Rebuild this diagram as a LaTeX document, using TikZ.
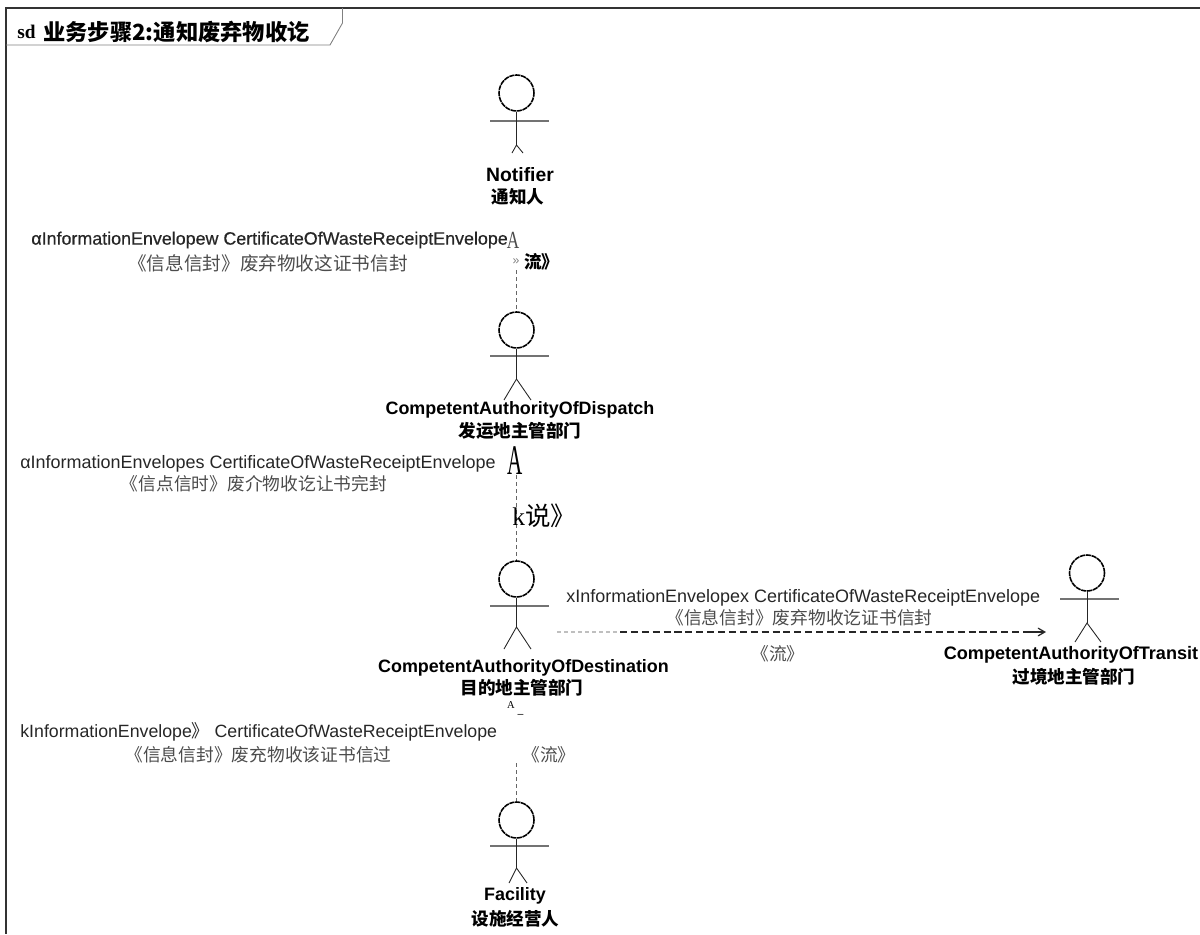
\documentclass[tikz,border=0pt]{standalone}
\usepackage{fontspec}
\setmainfont{Liberation Sans}
\newfontfamily\cjk{Noto Sans CJK SC}
\newfontfamily\serifglyph{Liberation Serif}
\newfontfamily\heavy[FakeBold=0.6]{Liberation Sans}
\usetikzlibrary{arrows,shapes}

\tikzset{
  head/.style={draw,ellipse,minimum width=0.7cm,minimum height=0.72cm,inner sep=0pt,line width=0.9pt,densely dashed,dash pattern=on 3pt off 0.4pt},
  limb/.style={line width=0.5pt,black!85},
  arm/.style={line width=0.6pt,black!55},
  actorname/.style={inner sep=0pt,font=\fontsize{10.2}{12}\selectfont\bfseries},
  actorzh/.style={inner sep=0pt,font=\fontsize{10}{12}\selectfont\cjk\bfseries},
  envelope/.style={inner sep=0pt,text=black!85,font=\fontsize{10.23}{12}\selectfont},
  envelopezh/.style={inner sep=0pt,text=black!70,font=\fontsize{10.1}{12}\selectfont\cjk},
  flow/.style={dashed,dash pattern=on 2pt off 2pt,line width=0.4pt,black!60},
  flowbold/.style={dash pattern=on 4pt off 2.2pt,line width=1.4pt,black!85}
}

\begin{document}
\begin{tikzpicture}[x=0.02cm,y=-0.02cm]
  \useasboundingbox (0,0) rectangle (1200,934);

  %% Frame
  \draw[line width=1.6pt,black!80] (1200,8) -- (6,8) -- (6,934);
  \draw[line width=0.5pt,black!50] (6,45) -- (330,45) -- (342.5,23) -- (342.5,8);
  \node[inner sep=0pt,anchor=west,font=\fontsize{11}{13}\selectfont\serifglyph\bfseries] (sdMark) at (17,32) {sd};
  \node[inner sep=0pt,anchor=west,font=\fontsize{12.67}{14}\selectfont\cjk\bfseries] (frameTitle) at (43,32) {业务步骤2:通知废弃物收讫};

  %% Notifier
  \node[head] (notifierHead) at (516.5,93) {};
  \draw[arm] (490,121) to (549,121);
  \draw[limb] (notifierHead.south) to (516.5,145);
  \draw[limb] (512,153) to (516.5,145) to (523,153);
  \node[actorname,font=\fontsize{11}{12}\selectfont\bfseries] (notifierName) at (520,175) {Notifier};
  \node[actorzh] (notifierZh) at (518,197) {通知人};

  %% Dispatch
  \node[head] (dispatchHead) at (516.5,330) {};
  \draw[arm] (490,356) to (549,356);
  \draw[limb] (dispatchHead.south) to (516.5,379);
  \draw[limb] (504,400) to (516.5,379) to (531,400);
  \node[actorname] (dispatchName) at (520,410) {CompetentAuthorityOfDispatch};
  \node[actorzh] (dispatchZh) at (520,431) {发运地主管部门};

  %% Destination
  \node[head] (destinationHead) at (516.5,579) {};
  \draw[arm] (490,606) to (549,606);
  \draw[limb] (destinationHead.south) to (516.5,627);
  \draw[limb] (504,649) to (516.5,627) to (531,649);
  \node[actorname] (destinationName) at (523.5,668) {CompetentAuthorityOfDestination};
  \node[actorzh] (destinationZh) at (522,688) {目的地主管部门};

  %% Transit
  \node[head] (transitHead) at (1087,573) {};
  \draw[arm,line width=1.2pt] (1060,599) to (1119,599);
  \draw[limb] (transitHead.south) to (1087,623);
  \draw[limb] (1075,642) to (1087,623) to (1101,642);
  \node[actorname,font=\fontsize{10.3}{12}\selectfont\bfseries] (transitName) at (1071,655) {CompetentAuthorityOfTransit};
  \node[actorzh] (transitZh) at (1074,677) {过境地主管部门};

  %% Facility
  \node[head] (facilityHead) at (516.5,820) {};
  \draw[arm] (490,846) to (549,846);
  \draw[limb] (facilityHead.south) to (516.5,868);
  \draw[limb] (509,883) to (516.5,868) to (527,883);
  \node[actorname] (facilityName) at (515,896) {Facility};
  \node[actorzh] (facilityZh) at (515.5,919) {设施经营人};

  %% Flows
  \coordinate (notifierOut) at (516.5,270);
  \draw[flow] (notifierOut) to (dispatchHead.north);
  \coordinate (dispatchOut) at (516.5,475);
  \draw[flow] (dispatchOut) to (destinationHead.north);
  \coordinate (facilityOut) at (516.5,763);
  \draw[flow] (facilityOut) to (facilityHead.north);
  \coordinate (destinationOut) at (557,632);
  \coordinate (fadeEnd) at (620,632);
  \coordinate (tipStart) at (1030,632);
  \coordinate (transitIn) at (1046,632);
  \draw[flow,black!25,line width=1pt] (destinationOut) to (fadeEnd);
  \draw[flowbold] (fadeEnd) to (tipStart);
  \draw[line width=0.7pt,black!85,>=angle 60,->] (tipStart) to (transitIn);

  %% Envelope labels
  \node[envelope,anchor=west,font=\fontsize{10.17}{12}\selectfont\heavy] (notifierEnv) at (31,240) {αInformationEnvelopew CertificateOfWasteReceiptEnvelope};
  \node[inner sep=0pt,text=black!70,font=\fontsize{14}{14}\selectfont\serifglyph] (notifierTip) at (513,240) {\scalebox{0.7}[1]{A}};
  \node[envelopezh,font=\fontsize{10.6}{12}\selectfont\cjk] (notifierEnvZh) at (268,263) {《信息信封》废弃物收这证书信封};
  \node[inner sep=0pt,text=black!50,font=\fontsize{7}{8}\selectfont] (notifierMark) at (516,262) {»};
  \node[actorzh,anchor=west] (notifierFlow) at (524,262) {流》};

  \node[envelope,anchor=west] (dispatchEnv) at (20,464) {αInformationEnvelopes CertificateOfWasteReceiptEnvelope};
  \node[inner sep=0pt,font=\fontsize{24}{24}\selectfont\serifglyph] (dispatchTip) at (515,461) {\scalebox{0.5}[1]{A}};
  \node[envelopezh] (dispatchEnvZh) at (254,484) {《信点信时》废介物收讫让书完封};
  \node[inner sep=0pt,anchor=west,font=\fontsize{14.5}{15}\selectfont] (dispatchFlow) at (512,516) {\serifglyph k\cjk 说》};

  \node[envelope,anchor=west] (destinationEnv) at (566,598) {xInformationEnvelopex CertificateOfWasteReceiptEnvelope};
  \node[envelopezh] (destinationEnvZh) at (799.5,618) {《信息信封》废弃物收讫证书信封};
  \node[envelopezh] (destinationFlow) at (778,654) {《流》};

  \node[inner sep=0pt,font=\fontsize{6}{7}\selectfont\serifglyph] (facilityTip) at (511,705) {A};
  \node[inner sep=0pt,font=\fontsize{6}{7}\selectfont] (facilityBar) at (520.5,716) {–};
  \node[envelope,anchor=west,font=\fontsize{10.1}{12}\selectfont] (facilityEnv) at (20,732) {kInformationEnvelope{\cjk 》} CertificateOfWasteReceiptEnvelope};
  \node[envelopezh] (facilityEnvZh) at (258.5,755) {《信息信封》废充物收该证书信过};
  \node[envelopezh] (facilityFlow) at (549,755) {《流》};

\end{tikzpicture}
\end{document}
